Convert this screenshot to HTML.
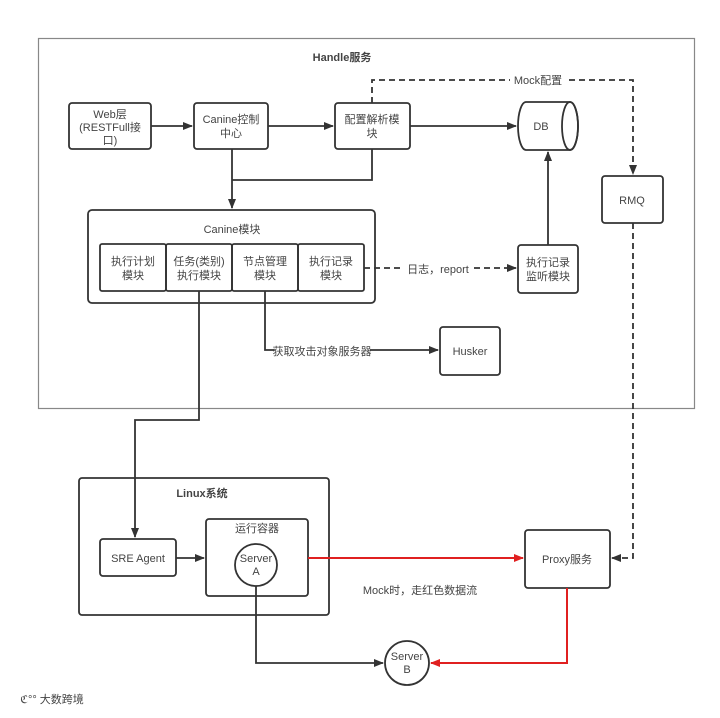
<!DOCTYPE html>
<html><head><meta charset="utf-8"><style>
body{margin:0;background:#fff;}
svg text{font-family:"Liberation Sans","Noto Sans CJK SC",sans-serif;font-size:11px;fill:#444;}
</style></head><body>
<svg width="720" height="713" viewBox="0 0 720 713" xmlns="http://www.w3.org/2000/svg">
<defs>
<marker id="a" markerWidth="10" markerHeight="8" refX="9" refY="4" orient="auto" markerUnits="userSpaceOnUse"><path d="M0,0L10,4L0,8z" fill="#333"/></marker>
<marker id="r" markerWidth="10" markerHeight="8" refX="9" refY="4" orient="auto" markerUnits="userSpaceOnUse"><path d="M0,0L10,4L0,8z" fill="#e02020"/></marker>
</defs>
<g fill="none" stroke="#333" stroke-width="1.8">
<rect x="38.5" y="38.5" width="656" height="370" stroke="#888" stroke-width="1.2"/>
<rect x="69" y="103" width="82" height="46" rx="3"/>
<rect x="194" y="103" width="74" height="46" rx="3"/>
<rect x="335" y="103" width="75" height="46" rx="3"/>
<path d="M526,102h44a8,24 0 0 1 0,48h-44a8,24 0 0 1 0,-48z"/>
<ellipse cx="570" cy="126" rx="8" ry="24"/>
<rect x="602" y="176" width="61" height="47" rx="3"/>
<rect x="88" y="210" width="287" height="93" rx="4"/>
<rect x="100" y="244" width="66" height="47" rx="2"/>
<rect x="166" y="244" width="66" height="47" rx="2"/>
<rect x="232" y="244" width="66" height="47" rx="2"/>
<rect x="298" y="244" width="66" height="47" rx="2"/>
<rect x="518" y="245" width="60" height="48" rx="3"/>
<rect x="440" y="327" width="60" height="48" rx="3"/>
<rect x="79" y="478" width="250" height="137" rx="3"/>
<rect x="100" y="539" width="76" height="37" rx="3"/>
<rect x="206" y="519" width="102" height="77" rx="3"/>
<circle cx="256" cy="565" r="21"/>
<rect x="525" y="530" width="85" height="58" rx="3"/>
<circle cx="407" cy="663" r="22"/>
<path d="M151,126H192" marker-end="url(#a)"/>
<path d="M268,126H333" marker-end="url(#a)"/>
<path d="M410,126H516" marker-end="url(#a)"/>
<path d="M232,149V208" marker-end="url(#a)"/>
<path d="M372,149V180H232"/>
<path d="M548,245V152" marker-end="url(#a)"/>
<path d="M372,103V80H633V174" stroke-dasharray="6,4" marker-end="url(#a)"/>
<path d="M364,268H516" stroke-dasharray="6,4" marker-end="url(#a)"/>
<path d="M633,223V558H612" stroke-dasharray="6,4" marker-end="url(#a)"/>
<path d="M199,291V420H135V537" marker-end="url(#a)"/>
<path d="M265,291V350H438" marker-end="url(#a)"/>
<path d="M176,558H204" marker-end="url(#a)"/>
<path d="M256,586V663H383" marker-end="url(#a)"/>
</g>
<g fill="none" stroke="#e02020" stroke-width="2">
<path d="M308,558H523" marker-end="url(#r)"/>
<path d="M567,588V663H431" marker-end="url(#r)"/>
</g>
<g text-anchor="middle">
<rect x="510" y="73" width="56" height="13" fill="#fff"/>
<text x="538" y="84">Mock配置</text>
<rect x="402" y="262" width="72" height="13" fill="#fff"/>
<text x="438" y="273">日志，report</text>
<rect x="274" y="344" width="96" height="13" fill="#fff"/>
<text x="322" y="355">获取攻击对象服务器</text>
<text x="342" y="61" font-weight="bold" fill="#222">Handle服务</text>
<text x="110" y="118">Web层</text><text x="110" y="131">(RESTFull接</text><text x="110" y="144">口)</text>
<text x="231" y="123">Canine控制</text><text x="231" y="137">中心</text>
<text x="372" y="123">配置解析模</text><text x="372" y="137">块</text>
<text x="541" y="130">DB</text>
<text x="632" y="204">RMQ</text>
<text x="232" y="233">Canine模块</text>
<text x="133" y="265">执行计划</text><text x="133" y="279">模块</text>
<text x="199" y="265">任务(类别)</text><text x="199" y="279">执行模块</text>
<text x="265" y="265">节点管理</text><text x="265" y="279">模块</text>
<text x="331" y="265">执行记录</text><text x="331" y="279">模块</text>
<text x="548" y="266">执行记录</text><text x="548" y="280">监听模块</text>
<text x="470" y="355">Husker</text>
<text x="202" y="497" font-weight="bold" fill="#222">Linux系统</text>
<text x="138" y="562">SRE Agent</text>
<text x="257" y="532">运行容器</text>
<text x="256" y="562">Server</text><text x="256" y="575">A</text>
<text x="567" y="563">Proxy服务</text>
<text x="420" y="594" fill="#c02020">Mock时，走红色数据流</text>
<text x="407" y="660">Server</text><text x="407" y="673">B</text>
<text x="52" y="703" font-size="13" fill="#bbb">ℭ°° 大数跨境</text>
</g>
</svg>
</body></html>
